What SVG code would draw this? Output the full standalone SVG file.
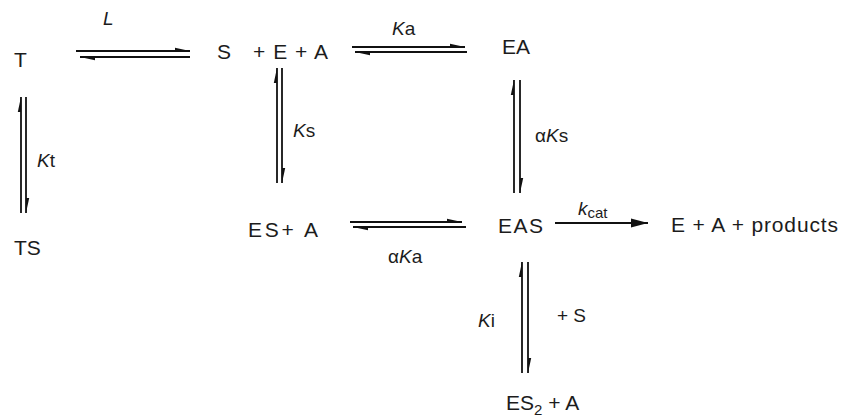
<svg xmlns="http://www.w3.org/2000/svg" width="844" height="420" viewBox="0 0 844 420">
  <style>
    text { font-family: "Liberation Sans", Arial, sans-serif; fill: #1c1c1c; }
    .sp { font-size: 21px; }
    .lb { font-size: 19px; }
    .it { font-style: italic; }
    .ln { stroke: #111; stroke-width: 1.8; fill: none; }
    .hp { marker-end: url(#harp); }
    .ar { marker-end: url(#head); }
  </style>
  <defs>
    <marker id="harp" markerUnits="userSpaceOnUse" markerWidth="20" markerHeight="10" viewBox="-16 -5 18 10" refX="0" refY="0" orient="auto" overflow="visible">
      <path d="M0,0 L-15,-3.2 L-15,0 Z" fill="#111"/>
    </marker>
    <marker id="head" markerUnits="userSpaceOnUse" markerWidth="20" markerHeight="12" viewBox="-18 -6 20 12" refX="0" refY="0" orient="auto" overflow="visible">
      <path d="M0,0 L-17,-4.5 L-17,4.5 Z" fill="#111"/>
    </marker>
  </defs>
  <rect width="844" height="420" fill="#ffffff"/>

  <g id="connectors">
    <!-- T <=> S+E+A -->
    <path class="ln hp" d="M76,51 H190"/>
    <path class="ln hp" d="M190,57 H80"/>
    <!-- S+E+A <=> EA -->
    <path class="ln hp" d="M352,47 H465"/>
    <path class="ln hp" d="M467,52 H355"/>
    <!-- ES+A <=> EAS -->
    <path class="ln hp" d="M350,222 H462"/>
    <path class="ln hp" d="M466,227 H353"/>
    <!-- T <=> TS -->
    <path class="ln hp" d="M21,213 V97"/>
    <path class="ln hp" d="M26,97 V213"/>
    <!-- S+E+A <=> ES+A -->
    <path class="ln hp" d="M277,183 V68"/>
    <path class="ln hp" d="M282,68 V183"/>
    <!-- EA <=> EAS -->
    <path class="ln hp" d="M514,193 V80"/>
    <path class="ln hp" d="M520,80 V193"/>
    <!-- EAS <=> ES2+A -->
    <path class="ln hp" d="M522,373 V262"/>
    <path class="ln hp" d="M528,262 V373"/>
    <!-- EAS -> products -->
    <path class="ln ar" d="M555,223 H648"/>
  </g>

  <g id="labels">
    <text class="lb it" x="103" y="25">L</text>
    <text class="lb" x="392" y="35"><tspan class="it">K</tspan>a</text>
    <text class="lb" x="37" y="167"><tspan class="it">K</tspan>t</text>
    <text class="lb" x="293" y="137"><tspan class="it">K</tspan>s</text>
    <text class="lb" x="535" y="142">α<tspan class="it">K</tspan>s</text>
    <text class="lb" x="388" y="263">α<tspan class="it">K</tspan>a</text>
    <text class="lb" x="578" y="215"><tspan class="it">k</tspan><tspan font-size="15" dy="3">cat</tspan></text>
    <text class="lb" x="478" y="327"><tspan class="it">K</tspan>i</text>
    <text class="lb" x="557" y="322">+ S</text>
  </g>

  <g id="node-T"><text class="sp" x="14" y="67">T</text></g>
  <g id="node-SEA">
    <text class="sp" x="217" y="59">S</text>
    <text class="sp" x="253" y="59" textLength="75" lengthAdjust="spacing">+ E + A</text>
  </g>
  <g id="node-EA"><text class="sp" x="502" y="54">EA</text></g>
  <g id="node-TS"><text class="sp" x="14" y="255">TS</text></g>
  <g id="node-ESA"><text class="sp" x="248" y="237" textLength="70" lengthAdjust="spacing">ES+ A</text></g>
  <g id="node-EAS"><text class="sp" x="498" y="233" textLength="45" lengthAdjust="spacing">EAS</text></g>
  <g id="node-products"><text class="sp" x="671" y="232" textLength="167" lengthAdjust="spacing">E + A + products</text></g>
  <g id="node-ES2A"><text class="sp" x="506" y="410">ES<tspan font-size="15" dy="5">2</tspan><tspan dy="-5"> + A</tspan></text></g>
</svg>
